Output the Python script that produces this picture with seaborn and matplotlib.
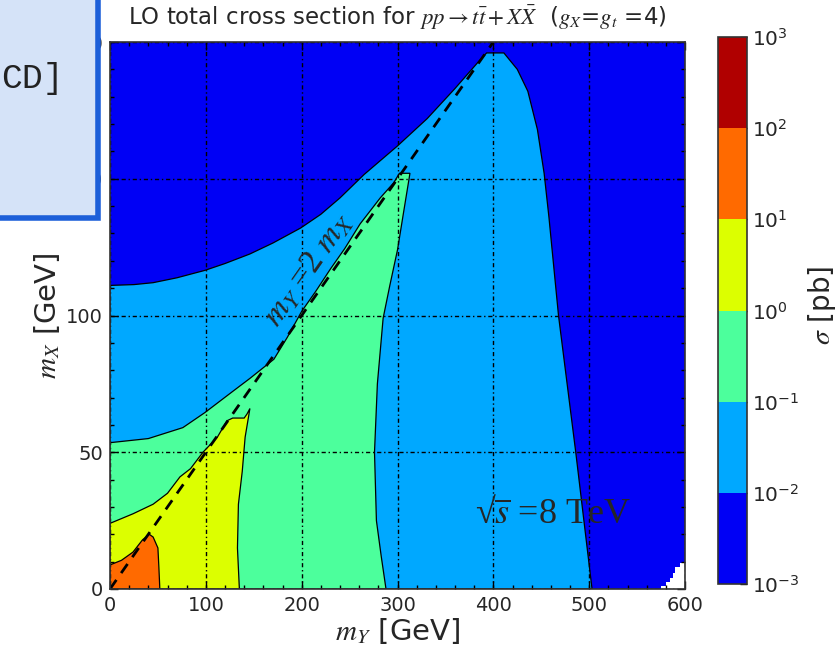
import numpy as np
import matplotlib
matplotlib.use("Agg")
import matplotlib.pyplot as plt
import seaborn as sns
from matplotlib.colors import ListedColormap, LogNorm
from matplotlib.patches import Rectangle
import matplotlib.ticker as mticker

# ---------------- data ----------------
# cross-section bands [pb]
levels = [1e-3, 1e-2, 1e-1, 1e0, 1e1, 1e2, 1e3]
band_colors = ['#0000f5', '#00a8ff', '#4cff9c', '#dcff00', '#ff6a00', '#b00000']

# contour sigma = 1e-2 pb (upper edge of the light-blue band)
c2_my = [0, 25, 45, 70, 99, 120, 146, 170, 199, 220, 240, 265, 300, 331, 360, 385, 393, 411, 425, 436, 446, 453, 458, 468, 486, 503]
c2_mx = [111, 111.3, 112, 113.8, 116.5, 119, 122.5, 126.5, 132, 137, 143, 151.5, 162, 172, 183, 193, 196, 196, 190, 182, 168, 152, 136, 100, 50, 0]

# contour sigma = 1e-1 pb (edge of the green band)
c1_my = [0, 40, 76, 99, 129, 146, 171, 185, 200, 215, 230, 245, 261, 282, 296, 302, 313, 306, 300, 292, 285, 279, 276, 278, 283, 288]
c1_mx = [53.5, 55, 59, 64.5, 72.5, 77, 84, 92, 101.5, 109, 117, 124.5, 133.5, 143, 148.5, 152, 152, 137, 124, 111, 99, 75, 50, 25, 12, 0]

# contour sigma = 1 pb (edge of the yellow band)
c0_my = [0, 24, 45, 60, 73, 84, 97, 112, 122, 128, 140, 143, 146, 141, 138, 134, 133, 135]
c0_mx = [24, 27.5, 31, 35, 41, 44, 50, 55.5, 61.5, 62.5, 62.5, 64, 66, 55.5, 43, 31, 15, 0]

# contour sigma = 10 pb (edge of the orange band)
cp1_my = [0, 12, 24, 34, 41, 45, 50, 51, 52]
cp1_mx = [8.8, 10.5, 13.5, 18, 20, 19, 15, 8, 0]

# corner without data
nd_my = [575, 575, 580, 580, 584, 584, 587, 587, 590, 590, 595, 595, 600, 600]
nd_mx = [0, 1, 1, 2.5, 2.5, 4, 4, 6, 6, 8, 8, 9.5, 9.5, 0]

# kinematic line m_Y = 2 m_X
diag_my = [0, 400]
diag_mx = [0, 200]

x_ticks = [0, 100, 200, 300, 400, 500, 600]
y_ticks = [0, 50, 100, 150, 200]

# ---------------- style ----------------
sns.set_style("ticks")
plt.rcParams['font.family'] = ['DejaVu Sans']
plt.rcParams['mathtext.fontset'] = 'dejavusans'

fig = plt.figure(figsize=(8.4, 6.57), dpi=100)
ax = fig.add_axes([110/840, 1-589/657, 575/840, 547/657])
cax = fig.add_axes([718/840, 1-584/657, 29/840, 547/657])

ax.set_facecolor(band_colors[0])

edge = dict(edgecolor='k', linewidth=0.9, zorder=1)
ax.fill(c2_my + [0], c2_mx + [0], facecolor=band_colors[1], **edge)
ax.fill(c1_my + [0], c1_mx + [0], facecolor=band_colors[2], **edge)
ax.fill(c0_my + [0], c0_mx + [0], facecolor=band_colors[3], **edge)
ax.fill(cp1_my + [0], cp1_mx + [0], facecolor=band_colors[4], **edge)
ax.fill(nd_my, nd_mx, facecolor='white', edgecolor='none', zorder=1.1)

sns.lineplot(x=diag_my, y=diag_mx, ax=ax, color='k', linewidth=2.0,
             linestyle=(0, (4, 3)), zorder=3)

ax.set_xlim(0, 600)
ax.set_ylim(0, 200)
ax.set_xticks(x_ticks)
ax.set_yticks(y_ticks)
ax.xaxis.set_minor_locator(mticker.MultipleLocator(20))
ax.yaxis.set_minor_locator(mticker.MultipleLocator(10))
ax.tick_params(which='both', direction='in', top=True, right=True, color='k')
ax.tick_params(which='major', length=6, width=1, labelsize=14, pad=5)
ax.tick_params(which='minor', length=3, width=1)
ax.set_axisbelow(False)
ax.grid(True, which='major', color='k', linestyle=(0, (3, 2, 1, 2)), linewidth=1.0)
for s in ax.spines.values():
    s.set_color('#333333')
    s.set_linewidth(1.2)
    s.set_zorder(4)

ax.set_xlabel(r'$m_Y$ [GeV]', fontsize=21, math_fontfamily='stix', labelpad=1)
ax.set_ylabel(r'$m_X$ [GeV]', fontsize=21, math_fontfamily='stix', labelpad=3)
ax.set_title(r'LO total cross section for $pp\rightarrow t\bar{t}+X\bar{X}$  ($g_X$=$g_t$ =4)',
             fontsize=16.5, math_fontfamily='stix', pad=12)

ang = np.degrees(np.arctan2(diag_mx[1] - diag_mx[0], diag_my[1] - diag_my[0]))
ax.text(207, 117, r'$m_Y$ =2 $m_X$', rotation=ang, transform_rotates_text=True,
        rotation_mode='anchor', ha='center', va='center', fontsize=24,
        family='Liberation Serif', math_fontfamily='stix', zorder=5)
ax.text(381, 24, '\u221a$\\overline{s}$ =8 TeV', ha='left', va='baseline', fontsize=26,
        family='Liberation Serif', math_fontfamily='stix', zorder=5)

# colorbar
sm = plt.cm.ScalarMappable(norm=LogNorm(levels[0], levels[-1]), cmap=ListedColormap(band_colors))
cb = fig.colorbar(sm, cax=cax, ticks=levels)
cb.outline.set_edgecolor('#333333')
cb.outline.set_linewidth(1.2)
cax.tick_params(which='major', direction='in', length=5, width=1, labelsize=14.5, color='k')
cax.tick_params(which='minor', length=0)
fig.text(822/840, 1-305/657, r'$\sigma$ [pb]', rotation=90, ha='center', va='center',
         fontsize=20, math_fontfamily='stix')

# overlapping note box in the corner of the screenshot
box = Rectangle((-0.05, 1-218/657), 0.05 + 98/840, 218/657 + 0.05, transform=fig.transFigure,
                facecolor='#d5e3f8', edgecolor='#1c5fd9', linewidth=4, zorder=10)
fig.add_artist(box)
fig.text(64/840, 1-88/657, 'CD]', ha='right', va='baseline', fontsize=25,
         family='Liberation Mono', color='#222222', zorder=11)

fig.savefig('out.png', dpi=100)
